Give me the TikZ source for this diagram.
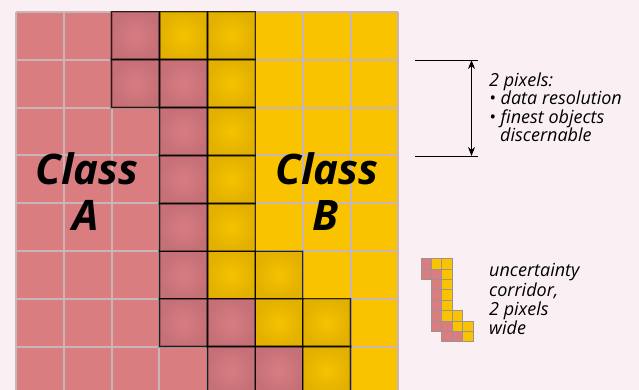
\documentclass[tikz,border=0pt]{standalone}
\usepackage{fontspec}
\setmainfont{Open Sans}
\usetikzlibrary{arrows.meta}
\definecolor{bgc}{HTML}{FAF0F3}
\definecolor{pinkc}{HTML}{DA7D80}
\definecolor{yelc}{HTML}{FAC300}
\definecolor{Phi}{HTML}{D87D82}
\definecolor{Plo}{HTML}{C57077}
\definecolor{Yhi}{HTML}{F7C200}
\definecolor{Ylo}{HTML}{E2B000}
\definecolor{gridc}{HTML}{C9B4B6}
\tikzset{
  gridl/.style={draw=gridc, line width=2pt},
  corrglow/.style={draw=black, opacity=0.22, line width=2.6pt},
  corrline/.style={draw=black, opacity=0.72, line width=1pt},
  iconline/.style={draw=gridc!80!black, line width=0.4pt},
  classlbl/.style={font=\fontsize{42}{45}\selectfont\bfseries\itshape, inner sep=0pt, anchor=base},
  smalltxt/.style={font=\fontsize{18}{19}\selectfont\itshape, inner sep=0pt, anchor=base west, text=black},
  dimline/.style={line width=0.9pt, draw=black},
  dimarrow/.style={line width=1.1pt, draw=black, {Stealth[length=9pt,width=7pt]}-{Stealth[length=9pt,width=7pt]}}
}
\begin{document}
\begin{tikzpicture}[x=1pt,y=-1pt]
\useasboundingbox (0,0) rectangle (639,390);
\fill[bgc] (0,0) rectangle (639,390);
\def\cs{47.8}
\begin{scope}
\clip (0,0) rectangle (639,390);
% base fills
\foreach \r/\n in {0/3,1/4,2/4,3/4,4/4,5/4,6/5,7/6}{
  \fill[pinkc] (16,{12+\r*\cs}) rectangle ({16+\n*\cs},{12+(\r+1)*\cs});
  \fill[yelc] ({16+\n*\cs},{12+\r*\cs}) rectangle ({16+8*\cs},{12+(\r+1)*\cs});
}
% grid
\foreach \i in {0,...,8}{
  \draw[gridl] ({16+\i*\cs},12) -- ({16+\i*\cs},400);
}
\foreach \i in {0,...,7}{
  \draw[gridl] (16,{12+\i*\cs}) -- ({16+8*\cs},{12+\i*\cs});
}
% corridor
\foreach \c/\r/\ci/\co in {2/0/Phi/Plo,3/0/Yhi/Ylo,4/0/Yhi/Ylo,
  2/1/Phi/Plo,3/1/Phi/Plo,4/1/Yhi/Ylo,
  3/2/Phi/Plo,4/2/Yhi/Ylo,
  3/3/Phi/Plo,4/3/Yhi/Ylo,
  3/4/Phi/Plo,4/4/Yhi/Ylo,
  3/5/Phi/Plo,4/5/Yhi/Ylo,5/5/Yhi/Ylo,
  3/6/Phi/Plo,4/6/Phi/Plo,5/6/Yhi/Ylo,6/6/Yhi/Ylo,
  4/7/Phi/Plo,5/7/Phi/Plo,6/7/Yhi/Ylo}{
  \shade[inner color=\ci, outer color=\co] ({16+\c*\cs},{12+\r*\cs}) rectangle ({16+(\c+1)*\cs},{12+(\r+1)*\cs});
}
\foreach \c/\r in {2/0,3/0,4/0,2/1,3/1,4/1,3/2,4/2,3/3,4/3,3/4,4/4,3/5,4/5,5/5,3/6,4/6,5/6,6/6,4/7,5/7,6/7}{
  \draw[corrglow] ({16+\c*\cs},{12+\r*\cs}) rectangle ({16+(\c+1)*\cs},{12+(\r+1)*\cs});
  \draw[corrline] ({16+\c*\cs},{12+\r*\cs}) rectangle ({16+(\c+1)*\cs},{12+(\r+1)*\cs});
}
\end{scope}
% class labels
\node[classlbl] (clsA1) at (87,185) {Class};
\node[classlbl] (clsA2) at (86,230) {A};
\node[classlbl] (clsB1) at (327,185) {Class};
\node[classlbl] (clsB2) at (326,230) {B};
% dimension annotation
\coordinate (dtl) at (415,60);
\coordinate (dtr) at (478,60);
\coordinate (dbl) at (415,156);
\coordinate (dbr) at (478,156);
\coordinate (atop) at (471.5,60);
\coordinate (abot) at (471.5,156);
\draw[dimline] (dtl) -- (dtr);
\draw[dimline] (dbl) -- (dbr);
\draw[dimarrow] (atop) -- (abot);
\node[smalltxt] (ann1) at (489,86.5) {2 pixels:};
\node[smalltxt] (ann2) at (489,105) {• data resolution};
\node[smalltxt] (ann3) at (489,123.3) {• finest objects};
\node[smalltxt] (ann4) at (500,141.7) {discernable};
% legend icon
\def\ic{10.4}
\foreach \c/\r/\col in {0/0/pinkc,1/0/yelc,2/0/yelc,
  0/1/pinkc,1/1/pinkc,2/1/yelc,
  1/2/pinkc,2/2/yelc,1/3/pinkc,2/3/yelc,1/4/pinkc,2/4/yelc,
  1/5/pinkc,2/5/yelc,3/5/yelc,
  1/6/pinkc,2/6/pinkc,3/6/yelc,4/6/yelc,
  2/7/pinkc,3/7/pinkc,4/7/yelc}{
  \fill[\col] ({420.7+\c*\ic},{258.3+\r*\ic}) rectangle ({420.7+(\c+1)*\ic},{258.3+(\r+1)*\ic});
  \draw[iconline] ({420.7+\c*\ic},{258.3+\r*\ic}) rectangle ({420.7+(\c+1)*\ic},{258.3+(\r+1)*\ic});
}
\node[smalltxt] (leg1) at (489,276.7) {uncertainty};
\node[smalltxt] (leg2) at (489,296) {corridor,};
\node[smalltxt] (leg3) at (489,315) {2 pixels};
\node[smalltxt] (leg4) at (489,334.3) {wide};
\end{tikzpicture}
\end{document}
